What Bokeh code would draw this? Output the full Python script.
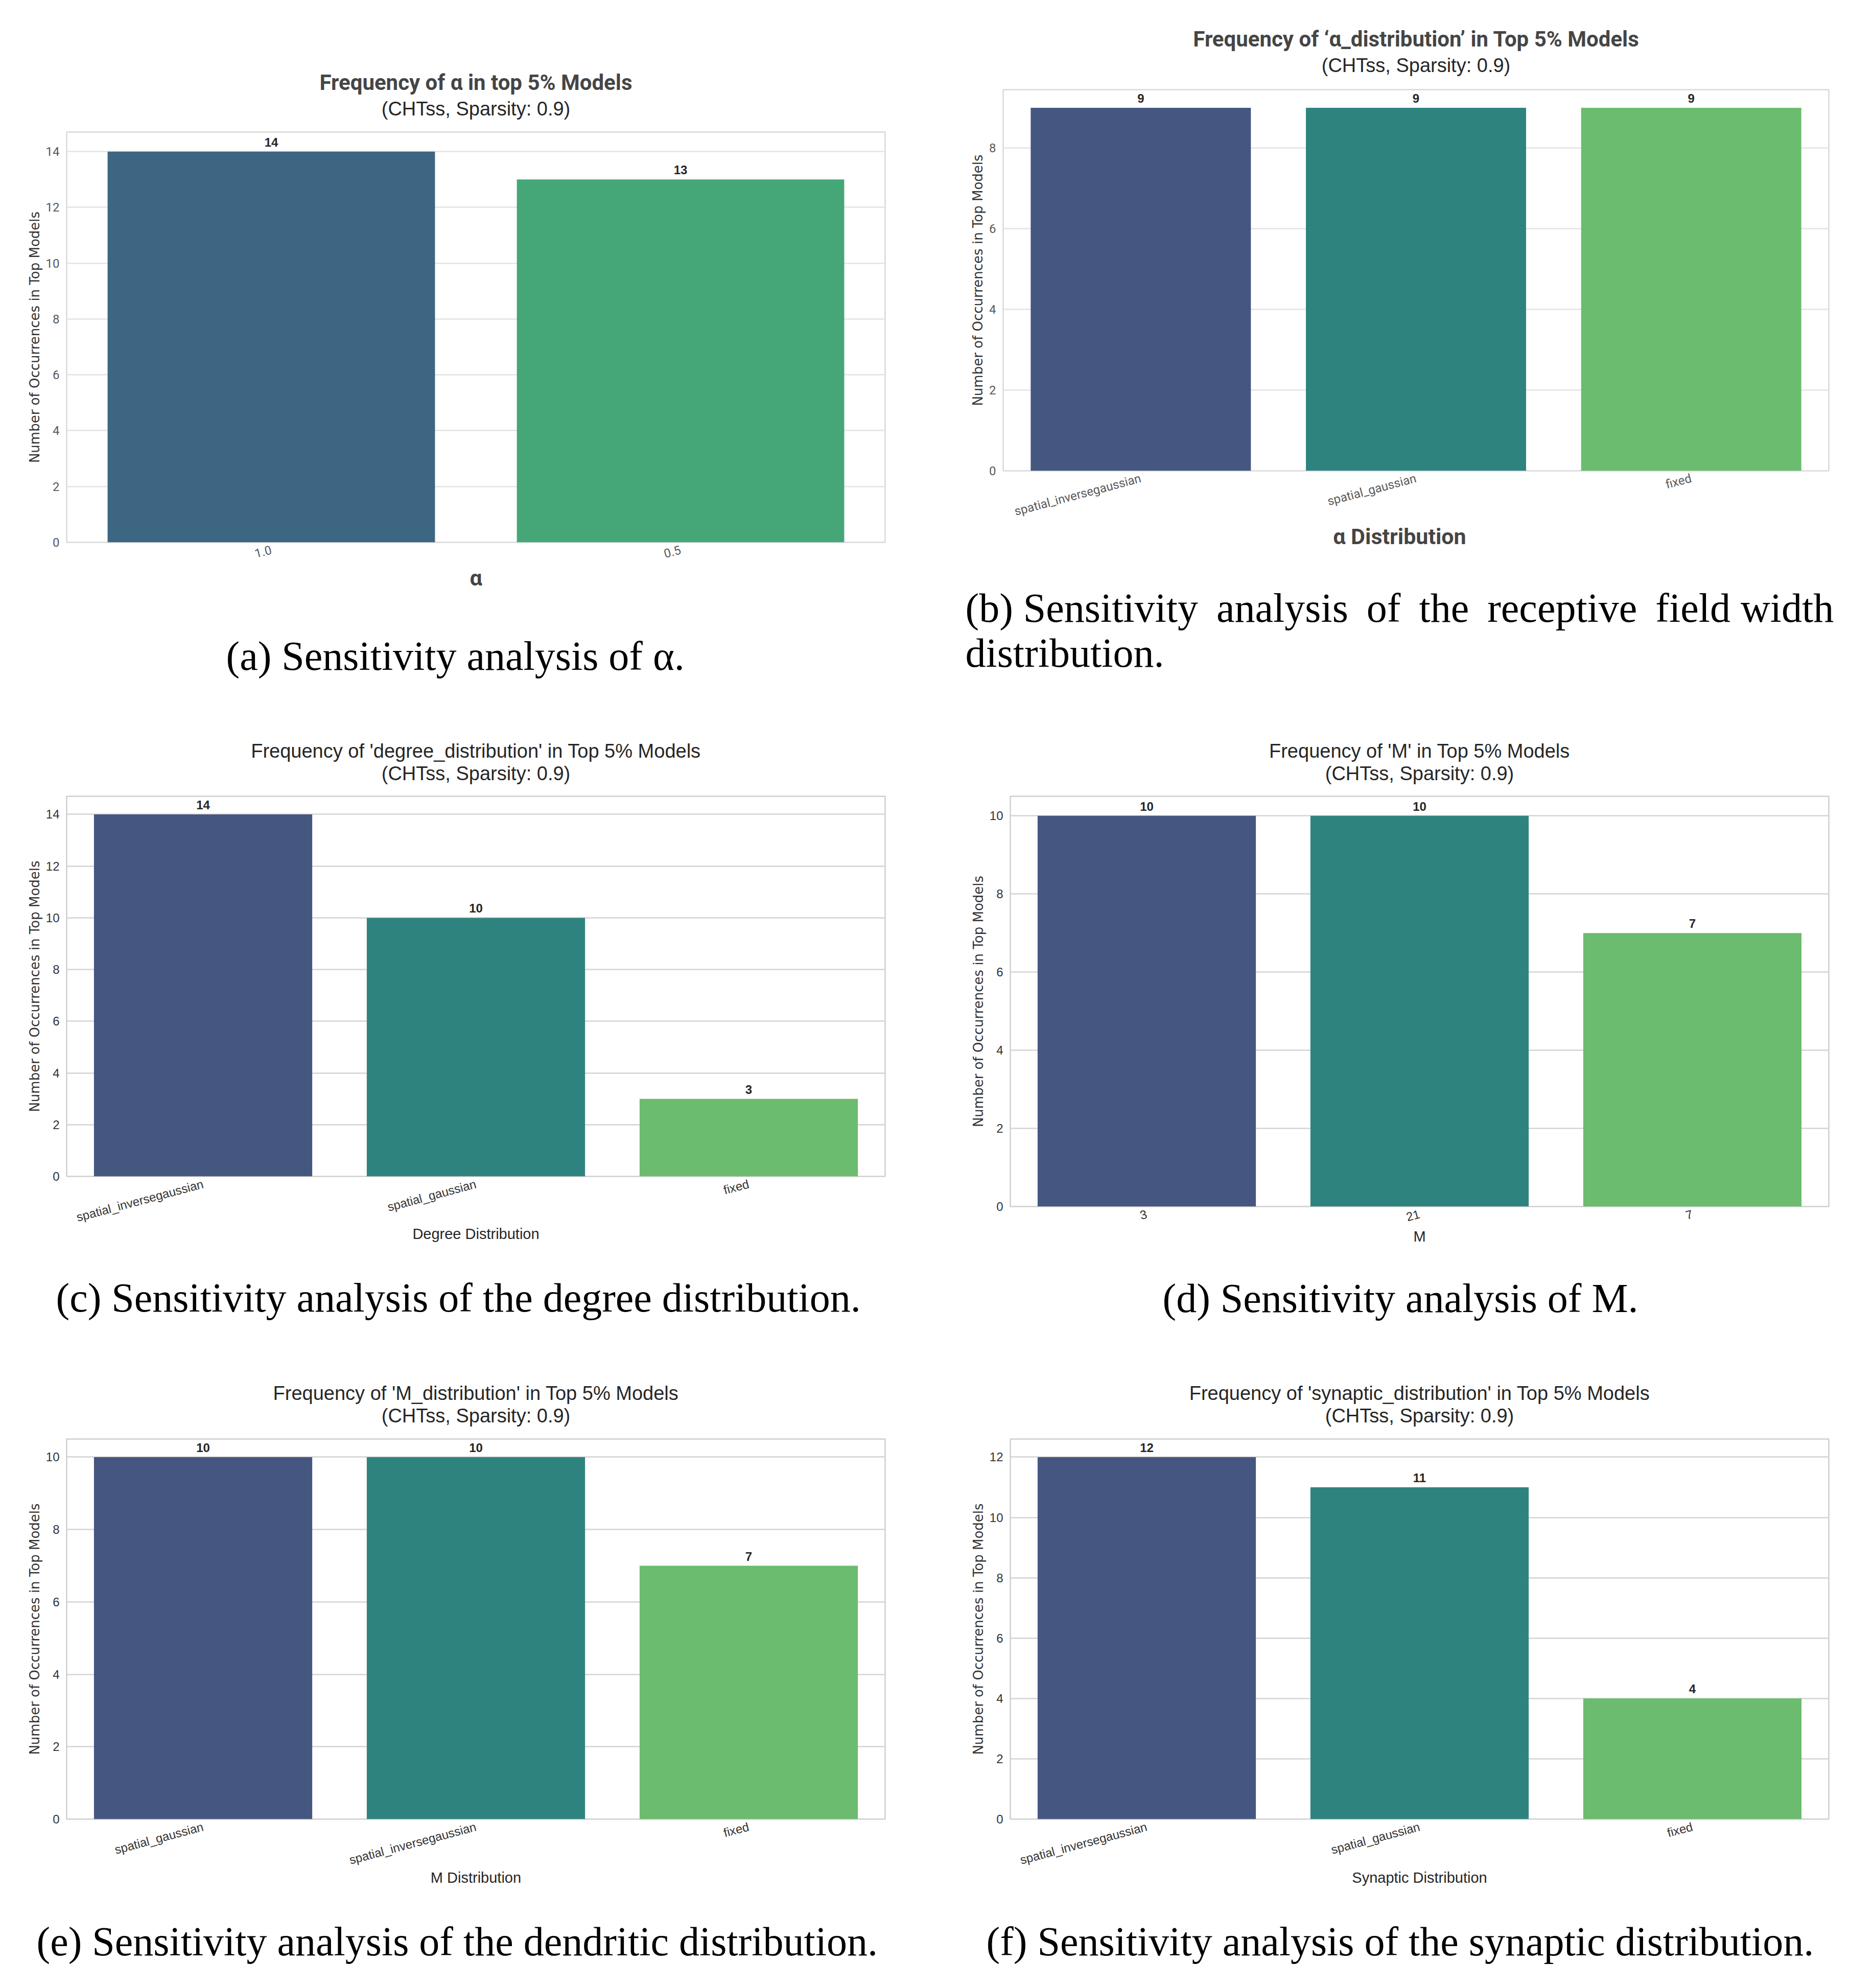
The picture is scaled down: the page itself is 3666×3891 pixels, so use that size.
import math
from bokeh.plotting import figure
from bokeh.models import ColumnDataSource, FixedTicker, Title
from bokeh.layouts import column, row
from bokeh.core.properties import value
from bokeh.embed import file_html
from bokeh.resources import INLINE

# ---- data ----
alpha_cats = ["1.0", "0.5"]
alpha_counts = [14, 13]

alpha_dist_cats = ["spatial_inversegaussian", "spatial_gaussian", "fixed"]
alpha_dist_counts = [9, 9, 9]

degree_cats = ["spatial_inversegaussian", "spatial_gaussian", "fixed"]
degree_counts = [14, 10, 3]

m_cats = ["3", "21", "7"]
m_counts = [10, 10, 7]

m_dist_cats = ["spatial_gaussian", "spatial_inversegaussian", "fixed"]
m_dist_counts = [10, 10, 7]

syn_cats = ["spatial_inversegaussian", "spatial_gaussian", "fixed"]
syn_counts = [12, 11, 4]

# viridis, desaturated as seaborn does for bars
viridis2 = ["#3d6682", "#45a778"]
viridis3 = ["#455681", "#2f837f", "#6bbc6e"]

SUBTITLE = "(CHTss, Sparsity: 0.9)"
YLABEL = "Number of Occurrences in Top Models"

CELL_W = 1825
ROW_H = [1397, 1259, 1219]


def gap(px):
    # invisible title used only as vertical spacing inside a border panel
    return Title(text=" ", text_font_size="1px", standoff=px, text_color="white")


def make_panel(cats, counts, colors, title, xlabel, caption, ymax, yticks,
               height, borders, shot=False, cap_offset=0, cap_gap=50,
               head_gap=22, title_standoff=0, xlabel_standoff=2):
    left, right, top, bottom = borders
    p = figure(x_range=cats, y_range=(0, ymax), width=CELL_W, height=height,
               output_backend="svg", toolbar_location=None, tools="",
               min_border_left=left, min_border_right=right,
               min_border_top=top, min_border_bottom=bottom,
               background_fill_color="white", border_fill_color="white")

    src = ColumnDataSource(dict(x=cats, top=counts, color=colors,
                                label=[str(v) for v in counts]))
    p.vbar(x="x", top="top", width=0.8, fill_color="color", line_color=None, source=src)
    p.text(x="x", y="top", text="label", source=src, text_align="center",
           text_baseline="bottom", y_offset=-10,
           text_font=value("Liberation Sans"), text_font_style="bold",
           text_font_size="24px", text_color="#262626")

    if shot:
        sans, tick_col = "Roboto", "#595959"
        grid_col, out_col = "#e3e3e3", "#d9d9d9"
    else:
        sans, tick_col = "Liberation Sans", "#333333"
        grid_col, out_col = "#d4d4d4", "#cfcfcf"

    # heading: spacer, subtitle next to the frame, main title outermost
    p.add_layout(gap(head_gap), "above")
    p.add_layout(Title(text=SUBTITLE, align="center", text_font="Liberation Sans",
                       text_font_size="38px", text_font_style="normal",
                       text_color="#262626", standoff=0), "above")
    p.title.text = title
    p.title.align = "center"
    p.title.standoff = title_standoff
    if shot:
        p.title.text_font = "Roboto"
        p.title.text_font_size = "42px"
        p.title.text_font_style = "bold"
        p.title.text_color = "#454545"
    else:
        p.title.text_font = "Liberation Sans"
        p.title.text_font_size = "38px"
        p.title.text_font_style = "normal"
        p.title.text_color = "#262626"

    p.yaxis.ticker = FixedTicker(ticks=yticks)
    p.axis.major_tick_line_color = None
    p.axis.minor_tick_line_color = None
    p.axis.axis_line_color = None
    p.axis.major_label_text_font = sans
    p.axis.major_label_text_font_size = "24px"
    p.axis.major_label_text_color = tick_col
    p.yaxis.major_label_standoff = 8
    p.xaxis.major_label_standoff = 8
    p.xaxis.major_label_orientation = math.pi / 12

    p.yaxis.axis_label = YLABEL
    p.yaxis.axis_label_text_font = "DejaVu Sans"
    p.yaxis.axis_label_text_font_size = "26px"
    p.yaxis.axis_label_text_font_style = "normal"
    p.yaxis.axis_label_text_color = "#333333"
    p.yaxis.axis_label_standoff = 4

    p.xaxis.axis_label = xlabel
    if shot:
        p.xaxis.axis_label_text_font = "Roboto"
        p.xaxis.axis_label_text_font_size = "43px"
        p.xaxis.axis_label_text_font_style = "bold"
        p.xaxis.axis_label_text_color = "#454545"
    else:
        p.xaxis.axis_label_text_font = "Liberation Sans"
        p.xaxis.axis_label_text_font_size = "29px"
        p.xaxis.axis_label_text_font_style = "normal"
        p.xaxis.axis_label_text_color = "#262626"
    p.xaxis.axis_label_standoff = xlabel_standoff

    p.xgrid.grid_line_color = None
    p.ygrid.grid_line_color = grid_col
    p.ygrid.grid_line_width = 2.5
    p.outline_line_color = out_col
    p.outline_line_width = 2.5

    # caption under the axis
    p.add_layout(gap(cap_gap), "below")
    p.add_layout(Title(text=caption, align="left", offset=cap_offset,
                       text_font="Liberation Serif", text_font_size="80px",
                       text_font_style="normal", text_color="black",
                       text_line_height=1.0, standoff=0), "below")
    return p


pa = make_panel(alpha_cats, alpha_counts, viridis2,
                "Frequency of \u03b1 in top 5% Models", "\u03b1",
                "(a) Sensitivity analysis of \u03b1.",
                14.7, list(range(0, 15, 2)), ROW_H[0], (130, 93, 258, 336),
                shot=True, cap_offset=312, cap_gap=76, head_gap=22, title_standoff=8)

pb = make_panel(alpha_dist_cats, alpha_dist_counts, viridis3,
                "Frequency of \u2018\u03b1_distribution\u2019 in Top 5% Models",
                "\u03b1 Distribution" + "\u00a0" * 6,
                "(b) Sensitivity \u2009analysis \u2009of \u2009the \u2009receptive \u2009field width\n"
                "distribution.",
                9.45, list(range(0, 9, 2)), ROW_H[0], (138, 71, 175, 476),
                shot=True, cap_offset=-74, cap_gap=63, head_gap=24, title_standoff=8,
                xlabel_standoff=-7)

pc = make_panel(degree_cats, degree_counts, viridis3,
                "Frequency of 'degree_distribution' in Top 5% Models", "Degree Distribution",
                "(c) Sensitivity analysis of the degree distribution.",
                14.7, list(range(0, 15, 2)), ROW_H[1], (130, 93, 161, 354),
                cap_offset=-21, cap_gap=57, head_gap=21, xlabel_standoff=-13)

pd_ = make_panel(m_cats, m_counts, viridis3,
                 "Frequency of 'M' in Top 5% Models", "M",
                 "(d) Sensitivity analysis of M.",
                 10.5, list(range(0, 11, 2)), ROW_H[1], (152, 71, 161, 295),
                 cap_offset=298, cap_gap=53, head_gap=21)

pe = make_panel(m_dist_cats, m_dist_counts, viridis3,
                "Frequency of 'M_distribution' in Top 5% Models", "M Distribution",
                "(e) Sensitivity analysis of the dendritic distribution.",
                10.5, list(range(0, 11, 2)), ROW_H[2], (130, 93, 160, 315),
                cap_offset=-59, cap_gap=57, xlabel_standoff=-11)

pf = make_panel(syn_cats, syn_counts, viridis3,
                "Frequency of 'synaptic_distribution' in Top 5% Models", "Synaptic Distribution",
                "(f) Sensitivity analysis of the synaptic distribution.",
                12.6, list(range(0, 13, 2)), ROW_H[2], (152, 71, 160, 315),
                cap_offset=-47, cap_gap=57, xlabel_standoff=-11)

layout = column(row(column(pa), column(pb)),
                row(column(pc), column(pd_)),
                row(column(pe), column(pf)))

open("out.html", "w").write(file_html(layout, INLINE))
